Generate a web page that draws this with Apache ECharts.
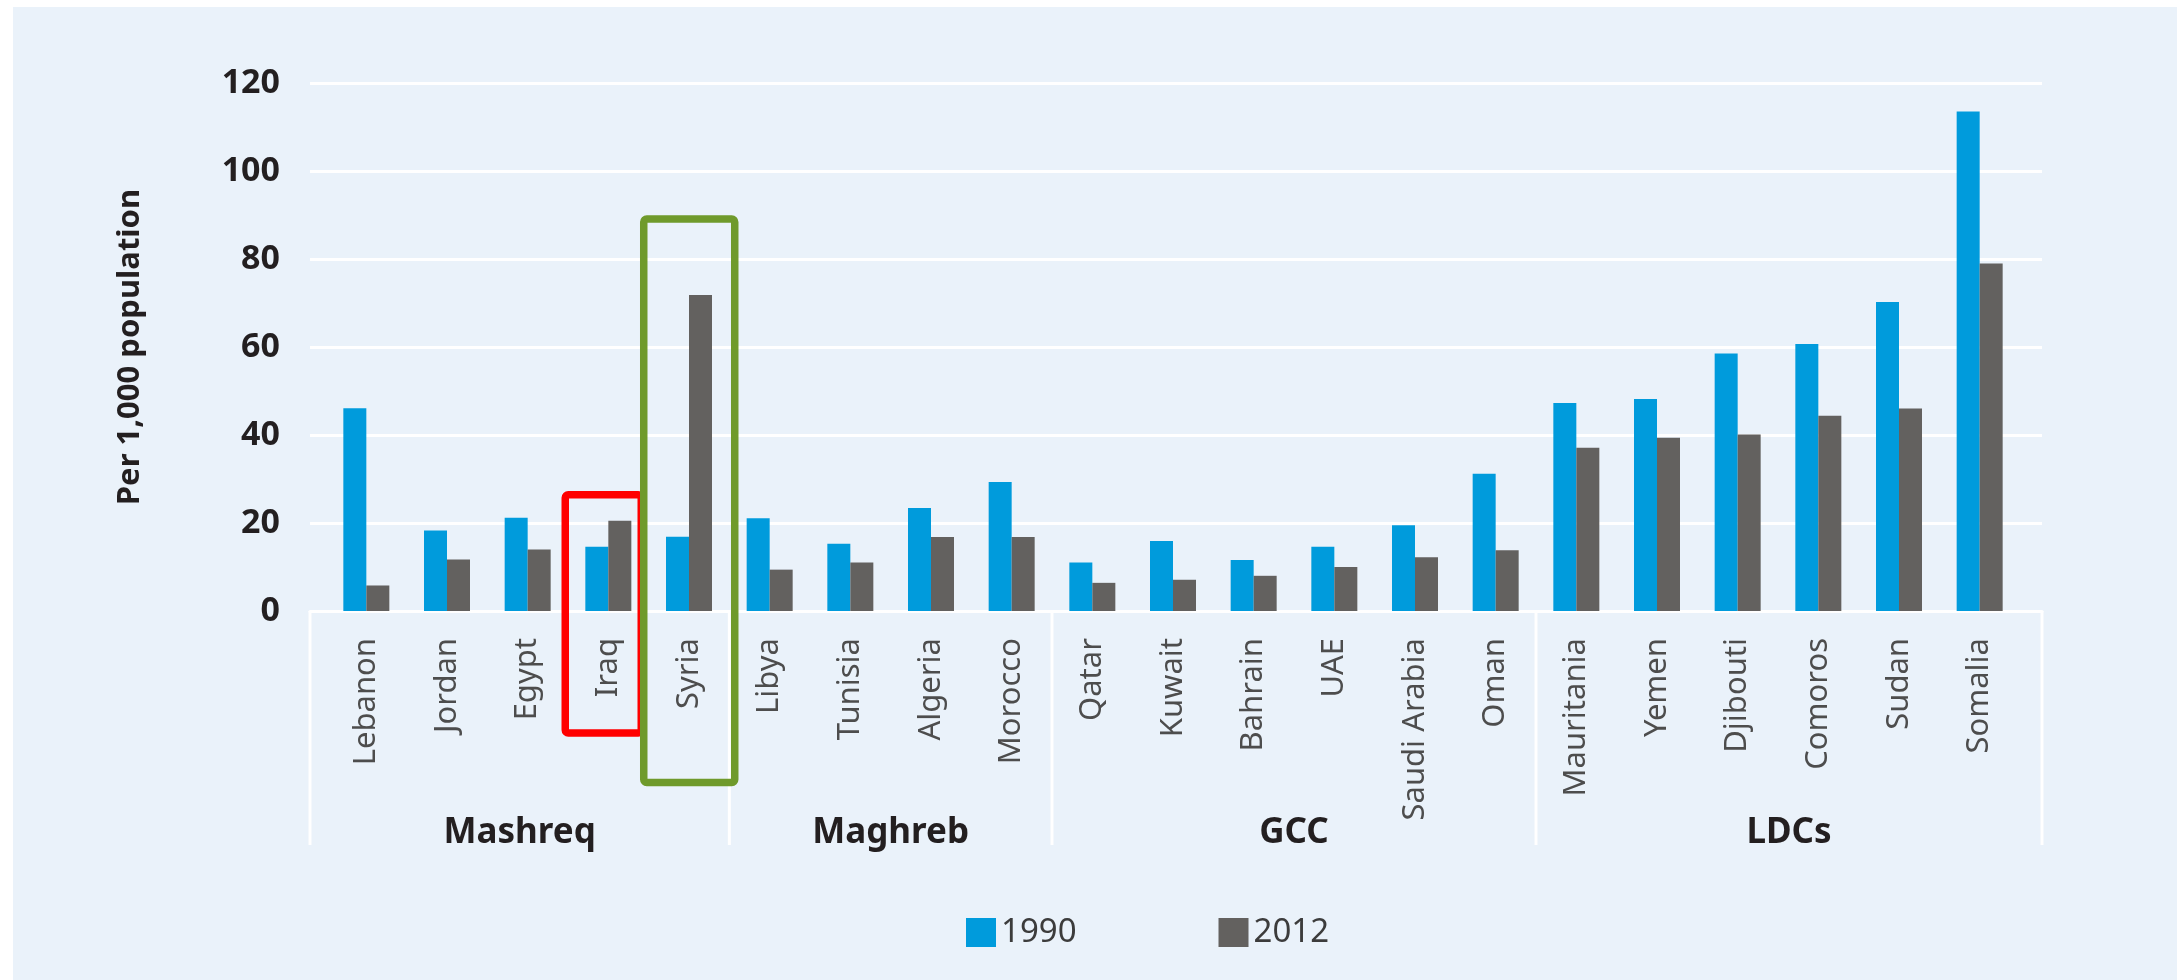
<!DOCTYPE html>
<html>
<head>
<meta charset="utf-8">
<title>Per 1,000 population</title>
<script src="https://cdn.jsdelivr.net/npm/echarts@6/dist/echarts.min.js"></script>
<style>
  html, body { margin: 0; padding: 0; background: #ffffff; }
  #chart { width: 2177px; height: 980px; }
</style>
</head>
<body>
<div id="chart"></div>
<script>
// categories and values
var countries = ['Lebanon', 'Jordan', 'Egypt', 'Iraq', 'Syria',
  'Libya', 'Tunisia', 'Algeria', 'Morocco',
  'Qatar', 'Kuwait', 'Bahrain', 'UAE', 'Saudi Arabia', 'Oman',
  'Mauritania', 'Yemen', 'Djibouti', 'Comoros', 'Sudan', 'Somalia'];
var values1990 = [46.1, 18.3, 21.2, 14.6, 16.9,
  21.1, 15.3, 23.4, 29.3,
  11.0, 15.9, 11.6, 14.6, 19.5, 31.2,
  47.3, 48.2, 58.5, 60.7, 70.2, 113.5];
var values2012 = [5.8, 11.7, 14.0, 20.5, 71.8,
  9.4, 11.0, 16.8, 16.8,
  6.4, 7.1, 8.0, 10.0, 12.2, 13.8,
  37.1, 39.4, 40.1, 44.4, 46.0, 79.0];
var seriesNames = ['1990', '2012'];
var groupNames = ['Mashreq', 'Maghreb', 'GCC', 'LDCs'];
var groupSizes = [5, 4, 6, 6];
var yMin = 0, yMax = 120, yStep = 20;

var FONT = 'Noto Sans';
var bg = '#eaf2fa';

var chart = echarts.init(document.getElementById('chart'));

var option = {
  backgroundColor: '#ffffff',
  animation: false,
  grid: [
    // bars
    { left: 326, top: 83, width: 1694, bottom: 369 },
    // gridlines / y labels / zero line (a bit wider than the bars)
    { left: 310, top: 83, right: 135, bottom: 369 }
  ],
  legend: {
    data: seriesNames,
    left: 961,
    top: 911,
    itemWidth: 30,
    itemHeight: 29,
    itemGap: 142,
    icon: 'rect',
    textStyle: { fontFamily: FONT, fontSize: 33, color: '#3c3c3c' }
  },
  xAxis: [
    {
      type: 'category',
      gridIndex: 0,
      data: countries,
      axisLine: { show: false },
      axisTick: { show: false },
      splitLine: { show: false },
      axisLabel: {
        rotate: 90,
        margin: 27,
        interval: 0,
        fontFamily: FONT,
        fontSize: 31,
        color: '#4d4d4d'
      }
    },
    {
      type: 'value',
      gridIndex: 1,
      min: 0,
      max: 1,
      axisLine: { show: true, lineStyle: { color: '#ffffff', width: 3 } },
      axisTick: { show: false },
      axisLabel: { show: false },
      splitLine: { show: false }
    }
  ],
  yAxis: [
    {
      type: 'value',
      gridIndex: 0,
      min: yMin,
      max: yMax,
      interval: yStep,
      show: false,
      splitLine: { show: false }
    },
    {
      type: 'value',
      gridIndex: 1,
      min: yMin,
      max: yMax,
      interval: yStep,
      axisLine: { show: false },
      axisTick: { show: false },
      splitLine: { show: true, lineStyle: { color: '#ffffff', width: 3 } },
      axisLabel: {
        margin: 30,
        fontFamily: FONT,
        fontSize: 34,
        fontWeight: 'bold',
        color: '#231f20'
      },
      name: 'Per 1,000 population',
      nameLocation: 'middle',
      nameGap: 164,
      nameTextStyle: {
        fontFamily: FONT,
        fontSize: 31,
        fontWeight: 'bold',
        color: '#231f20'
      }
    }
  ],
  series: [
    {
      name: seriesNames[0],
      type: 'bar',
      xAxisIndex: 0,
      yAxisIndex: 0,
      barWidth: 23,
      barGap: '0%',
      itemStyle: { color: '#009bdc' },
      data: values1990
    },
    {
      name: seriesNames[1],
      type: 'bar',
      xAxisIndex: 0,
      yAxisIndex: 0,
      barWidth: 23,
      barGap: '0%',
      itemStyle: { color: '#63615f' },
      data: values2012
    }
  ]
};

chart.setOption(option);

// ---- extra drawing: background panel, group boxes, group names, highlight boxes
function px(i) { return chart.convertToPixel({ xAxisIndex: 0 }, countries[i]); }
function py(v) { return chart.convertToPixel({ yAxisIndex: 0 }, v); }

var step = px(1) - px(0);
function fx(f) { return px(0) + f * step; } // fractional category index -> x

var outerL = chart.convertToPixel({ xAxisIndex: 1 }, 0);
var outerR = chart.convertToPixel({ xAxisIndex: 1 }, 1);
var y0 = py(0);
var boxBottom = y0 + 234;

var graphics = [];

// light blue panel
graphics.push({
  type: 'rect', z: -10, silent: true,
  shape: { x: 13, y: 7, width: 2177, height: 980 },
  style: { fill: bg }
});

// group dividers + names
var edges = [outerL];
var start = 0;
for (var g = 0; g < groupSizes.length; g++) {
  start += groupSizes[g];
  edges.push(g === groupSizes.length - 1 ? outerR : fx(start - 0.5));
}
for (var k = 0; k < edges.length; k++) {
  graphics.push({
    type: 'line', z: 1, silent: true,
    shape: { x1: edges[k], y1: y0, x2: edges[k], y2: boxBottom },
    style: { stroke: '#ffffff', lineWidth: 3 }
  });
}
for (var g2 = 0; g2 < groupNames.length; g2++) {
  graphics.push({
    type: 'text', z: 5,
    x: (edges[g2] + edges[g2 + 1]) / 2,
    y: y0 + 222,
    style: {
      text: groupNames[g2],
      fontFamily: FONT, fontSize: 35, fontWeight: 'bold',
      fill: '#231f20', align: 'center', verticalAlign: 'middle'
    }
  });
}

// highlight boxes (Iraq red, Syria green)
var highlights = [
  { from: 2.466, to: 3.408, top: 26.4, bottom: -27.7, color: '#ff0000' },
  { from: 3.439, to: 4.567, top: 89.1, bottom: -39.0, color: '#6f9a2b' }
];
highlights.forEach(function (h) {
  var x1 = fx(h.from), x2 = fx(h.to);
  var yt = py(h.top), yb = py(h.bottom);
  graphics.push({
    type: 'rect', z: 20, silent: true,
    shape: { x: x1, y: yt, width: x2 - x1, height: yb - yt, r: 3 },
    style: { fill: 'none', stroke: h.color, lineWidth: 7.5 }
  });
});

chart.setOption({ graphic: graphics });
</script>
</body>
</html>
